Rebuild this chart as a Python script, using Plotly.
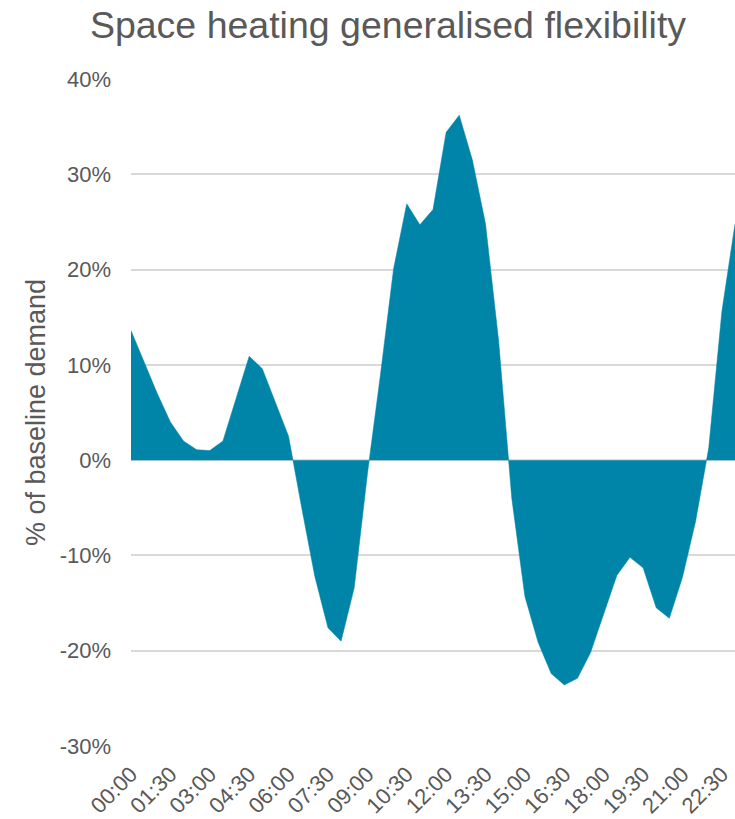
import plotly.graph_objects as go

# Half-hourly time slots shown on the category axis
times = [f"{h:02d}:{m:02d}" for h in range(24) for m in (0, 30)][:47]

# Generalised flexibility as % of baseline demand, per half-hour slot
flexibility_pct = [
    13.6, 10.3, 7.0, 4.0, 2.0, 1.1, 1.0, 2.0, 6.5, 10.9,
    9.6, 6.0, 2.5, -5.0, -12.2, -17.6, -19.0, -13.4, -1.5, 9.0,
    20.1, 26.9, 24.7, 26.3, 34.4, 36.2, 31.5, 24.8, 12.5, -4.0,
    -14.3, -19.1, -22.4, -23.6, -22.9, -20.2, -16.1, -12.1, -10.2, -11.3,
    -15.5, -16.6, -12.3, -6.4, 1.3, 15.6, 24.8,
]

# Axis ticks
x_tick_labels = times[::3]
y_tick_values = [-30, -20, -10, 0, 10, 20, 30, 40]
y_tick_labels = [f"{v}%" for v in y_tick_values]

FILL = "#0084A8"
TEXT = "#595959"
GRID = "#D9D9D9"
FONT = "Liberation Sans, Arial, sans-serif"

fig = go.Figure(
    go.Scatter(
        x=times,
        y=flexibility_pct,
        mode="lines",
        fill="tozeroy",
        fillcolor=FILL,
        line=dict(color=FILL, width=0.5),
        hoverinfo="x+y",
    )
)

fig.update_layout(
    width=735,
    height=819,
    margin=dict(l=131, r=0, t=79, b=73),
    paper_bgcolor="white",
    plot_bgcolor="white",
    showlegend=False,
    font=dict(family=FONT, color=TEXT),
    title=dict(
        text="Space heating generalised flexibility",
        x=388 / 735,
        xanchor="center",
        xref="container",
        y=1 - 25 / 819,
        yanchor="middle",
        yref="container",
        font=dict(size=37.5, color=TEXT, family=FONT),
    ),
)

fig.update_xaxes(
    type="category",
    categoryorder="array",
    categoryarray=times,
    range=[0, len(times) - 1],
    tickmode="array",
    tickvals=x_tick_labels,
    ticktext=x_tick_labels,
    tickangle=-45,
    tickfont=dict(size=22, color=TEXT, family=FONT),
    showgrid=False,
    zeroline=False,
    showline=False,
    ticks="",
    ticklabelstandoff=10,
)

fig.update_yaxes(
    range=[-30, 40],
    tickmode="array",
    tickvals=y_tick_values,
    ticktext=y_tick_labels,
    tickfont=dict(size=22, color=TEXT, family=FONT),
    showgrid=True,
    gridcolor=GRID,
    gridwidth=1.8,
    zeroline=True,
    zerolinecolor=GRID,
    zerolinewidth=1.8,
    showline=False,
    ticks="",
    ticklabelstandoff=19,
    title=dict(
        text="% of baseline demand",
        font=dict(size=27, color=TEXT, family=FONT),
        standoff=6,
    ),
)

fig.write_html("out.html")
